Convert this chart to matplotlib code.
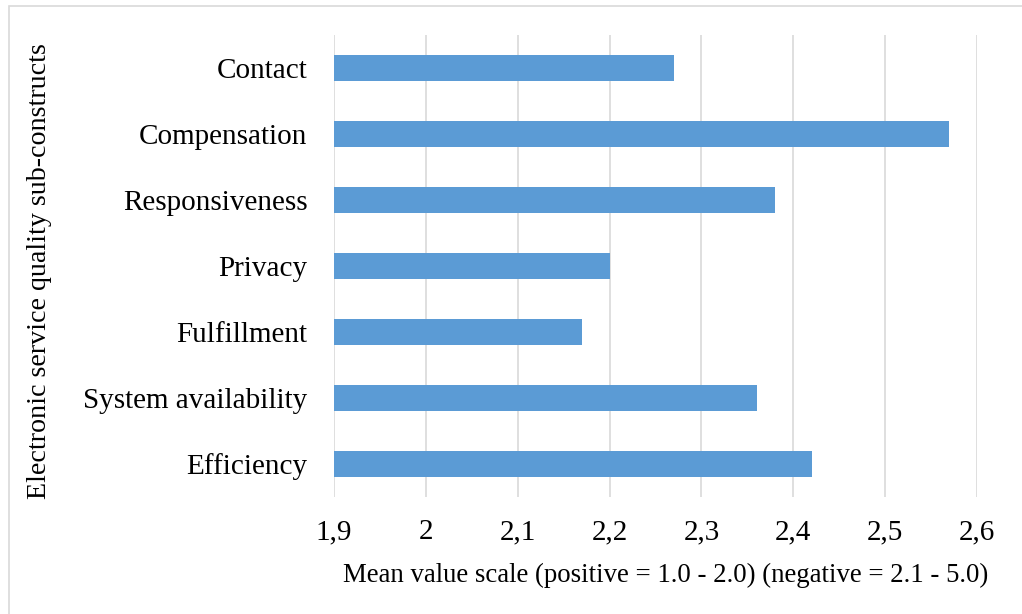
import matplotlib.pyplot as plt
from matplotlib.ticker import FuncFormatter
from matplotlib.patches import Rectangle

# sub-constructs, bottom to top
constructs = ['Efficiency', 'System availability', 'Fulfillment', 'Privacy',
              'Responsiveness', 'Compensation', 'Contact']
mean_values = [2.42, 2.36, 2.17, 2.20, 2.38, 2.57, 2.27]
x_ticks = [1.9, 2.0, 2.1, 2.2, 2.3, 2.4, 2.5, 2.6]

plt.rcParams['font.family'] = ['Liberation Serif', 'DejaVu Serif']

fig = plt.figure(figsize=(10.22, 6.14), dpi=100)
ax = fig.add_axes([0.3268, 0.1906, 0.6292, 0.7524])

y = list(range(len(constructs)))
ax.barh(y, mean_values, left=0, height=0.39, color='#5B9BD5', zorder=2)

ax.set_xlim(1.9, 2.6)
ax.set_ylim(-0.5, 6.5)
ax.set_xticks(x_ticks)
ax.xaxis.set_major_formatter(FuncFormatter(
    lambda v, pos: ('%g' % round(v, 1)).replace('.', ',')))
ax.set_yticks(y)
ax.set_yticklabels(constructs)
ax.tick_params(axis='x', length=0, pad=16, labelsize=21)
ax.tick_params(axis='y', length=0, pad=19, labelsize=21)
ax.grid(axis='x', color='#d9d9d9', linewidth=1.2, zorder=0)
for s in ax.spines.values():
    s.set_visible(False)

ax.set_xlabel('Mean value scale (positive = 1.0 - 2.0) (negative = 2.1 - 5.0)',
              fontsize=19.3, labelpad=13)
ax.xaxis.label.set_x(0.515)
fig.text(0.039, 0.558, 'Electronic service quality sub-constructs', rotation=90,
         fontsize=20.2, ha='center', va='center')

# chart frame
fig.patches.append(Rectangle((0.009, -0.02), 1.1, 1.01, transform=fig.transFigure,
                             fill=False, edgecolor='#d9d9d9', linewidth=1.2))

fig.savefig('out.png', dpi=100)
